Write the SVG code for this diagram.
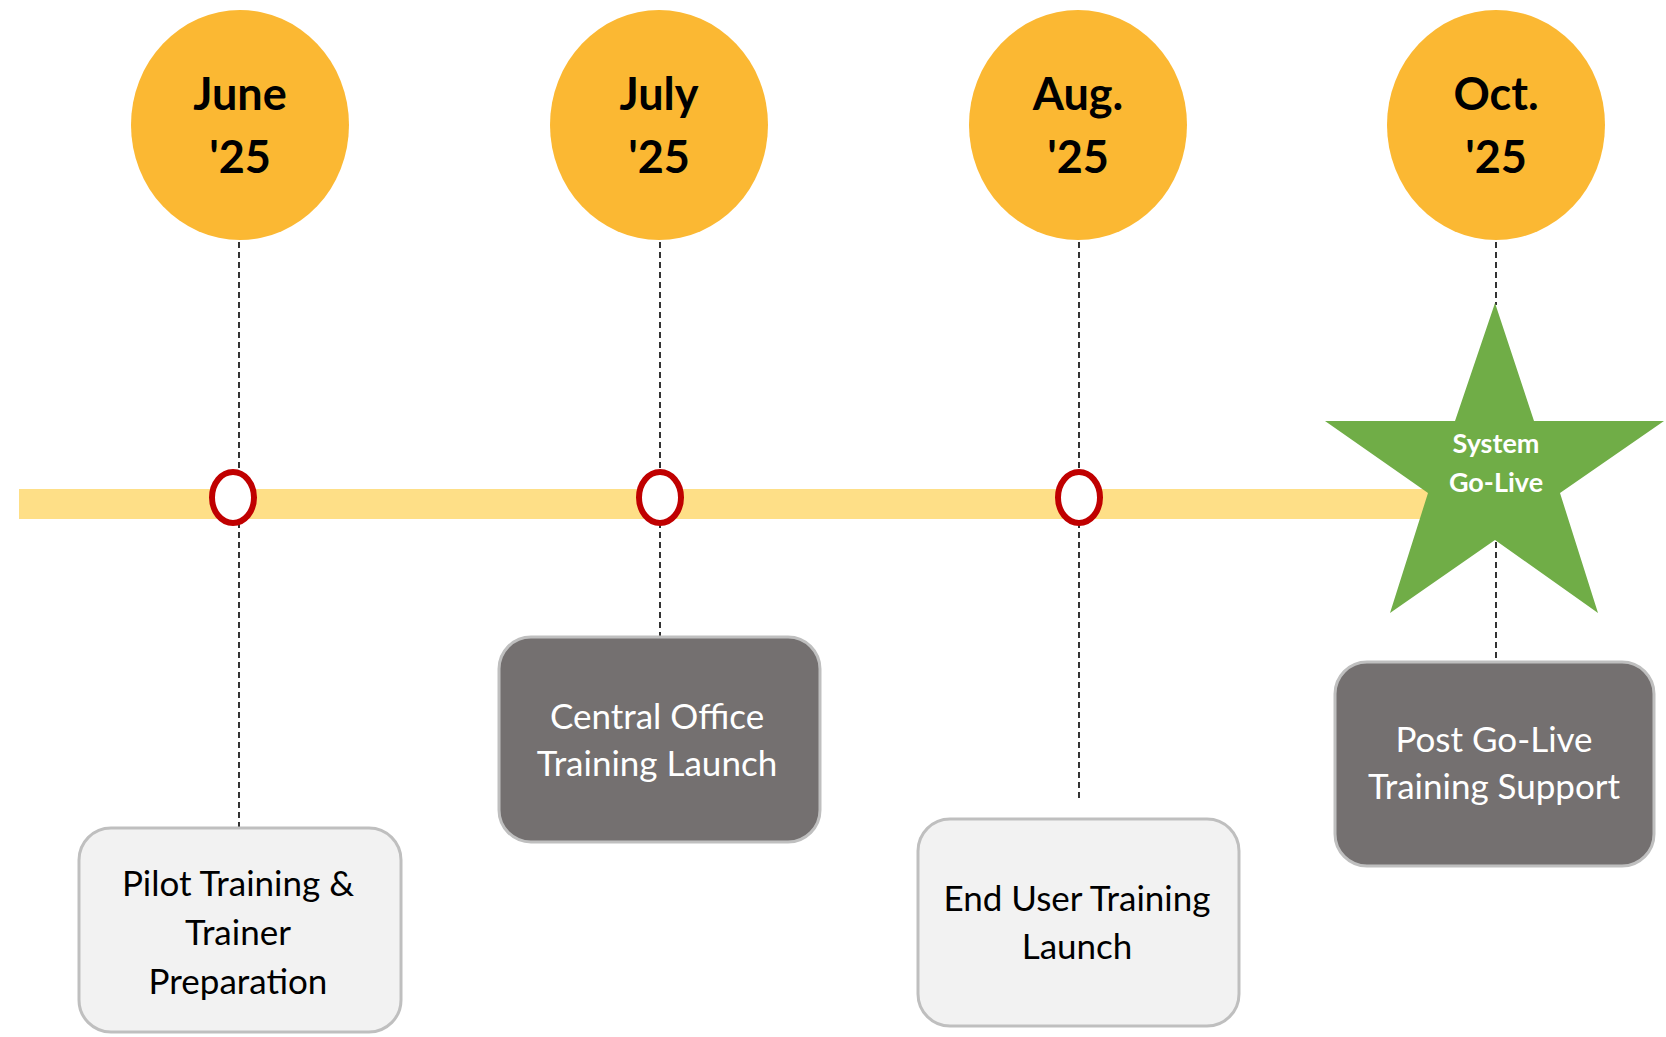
<svg xmlns="http://www.w3.org/2000/svg" width="1666" height="1037" viewBox="0 0 1666 1037">
<style>
.month{fill:#FBB833}
.mt{font-family:Lato,"Liberation Sans",sans-serif;font-weight:bold;font-size:45px;fill:#000;text-anchor:middle}
.dash{stroke:#000;stroke-width:1.6;stroke-dasharray:6,4;fill:none}
.ms{fill:#fff;stroke:#C00000;stroke-width:6}
.lbox{fill:#F2F2F2;stroke:#BFBFBF;stroke-width:3}
.dbox{fill:#747070;stroke:#BFBFBF;stroke-width:3}
.bt{font-family:Lato,"Liberation Sans",sans-serif;font-size:35px;text-anchor:middle}
.dark{fill:#000}
.light{fill:#fff}
.st{font-family:Lato,"Liberation Sans",sans-serif;font-weight:bold;font-size:27px;fill:#fff;text-anchor:middle}
</style>
<rect width="1666" height="1037" fill="#fff"/>
<rect id="timeline" x="19" y="489" width="1420" height="30" fill="#FEDF87"/>
<g id="connectors">
<line class="dash" x1="239" y1="242" x2="239" y2="827"/>
<line class="dash" x1="660" y1="242" x2="660" y2="636"/>
<line class="dash" x1="1079" y1="242" x2="1079" y2="802"/>
<line class="dash" x1="1496" y1="242" x2="1496" y2="305"/>
</g>
<g id="june"><ellipse class="month" cx="240" cy="125" rx="109" ry="115"/><text class="mt" x="240" y="110">June</text><text class="mt" x="240" y="173">'25</text></g>
<g id="july"><ellipse class="month" cx="659" cy="125" rx="109" ry="115"/><text class="mt" x="659" y="110">July</text><text class="mt" x="659" y="173">'25</text></g>
<g id="aug"><ellipse class="month" cx="1078" cy="125" rx="109" ry="115"/><text class="mt" x="1078" y="110">Aug.</text><text class="mt" x="1078" y="173">'25</text></g>
<g id="oct"><ellipse class="month" cx="1496" cy="125" rx="109" ry="115"/><text class="mt" x="1496" y="110">Oct.</text><text class="mt" x="1496" y="173">'25</text></g>
<g id="m1"><ellipse class="ms" cx="233" cy="497.5" rx="21" ry="25.5"/></g>
<g id="m2"><ellipse class="ms" cx="660" cy="497.5" rx="21" ry="25.5"/></g>
<g id="m3"><ellipse class="ms" cx="1079" cy="497.5" rx="21" ry="25.5"/></g>
<g id="golive">
<polygon points="1495,303 1534,421 1664,421 1560,493 1598,613 1495,540 1390,613 1428,493 1325,421 1455,421" fill="#70AD47"/>
<line class="dash" x1="1496" y1="542" x2="1496" y2="671"/>
<text class="st" x="1496" y="453">System</text>
<text class="st" x="1496" y="492">Go-Live</text>
</g>
<g id="pilot"><rect class="lbox" x="79" y="828" width="322" height="204" rx="32"/>
<text class="bt dark" x="238" y="896">Pilot Training &amp;</text>
<text class="bt dark" x="238" y="945">Trainer</text>
<text class="bt dark" x="238" y="994">Preparation</text></g>
<g id="central"><rect class="dbox" x="499" y="637" width="321" height="205" rx="32"/>
<text class="bt light" x="657" y="729">Central Office</text>
<text class="bt light" x="657" y="776">Training Launch</text></g>
<g id="enduser"><rect class="lbox" x="918" y="819" width="321" height="207" rx="32"/>
<text class="bt dark" x="1077" y="911">End User Training</text>
<text class="bt dark" x="1077" y="959">Launch</text></g>
<g id="postgolive"><rect class="dbox" x="1335" y="662" width="319" height="204" rx="32"/>
<text class="bt light" x="1494" y="752">Post Go-Live</text>
<text class="bt light" x="1494" y="799">Training Support</text></g>
</svg>
